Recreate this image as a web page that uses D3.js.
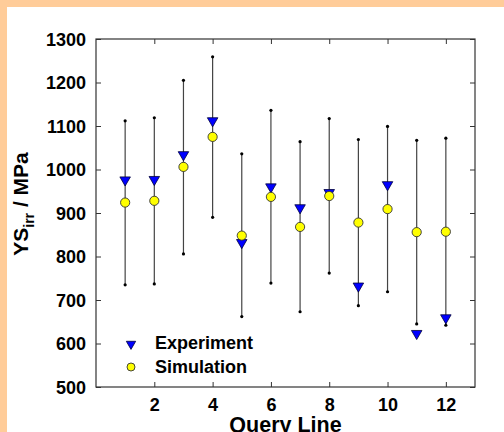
<!DOCTYPE html>
<html>
<head>
<meta charset="utf-8">
<script src="https://cdn.jsdelivr.net/npm/d3@7"></script>
<style>
  body { margin: 0; background: #ffcc99; }
  svg { display: block; }
  text { font-family: "Liberation Sans", Arial, Helvetica, sans-serif; font-weight: bold; fill: #000; }
</style>
</head>
<body>
<svg id="chart" width="504" height="432"></svg>
<script>
// DATA
var queryLines = [1, 2, 3, 4, 5, 6, 7, 8, 9, 10, 11, 12];
var experiment = [976, 977, 1034, 1112, 832, 960, 912, 947, 732, 965, 623, 659];
var simulation = [924, 928, 1006, 1075, 848, 937, 868, 939, 878, 909, 856, 857];
var errHigh = [1112, 1119, 1205, 1259, 1036, 1136, 1064, 1117, 1069, 1099, 1067, 1072];
var errLow = [735, 737, 806, 890, 662, 739, 673, 762, 687, 719, 645, 642];
var xTicks = [2, 4, 6, 8, 10, 12];
var yTicks = [500, 600, 700, 800, 900, 1000, 1100, 1200, 1300];
var legendLabels = ["Experiment", "Simulation"];

var W = 504, H = 432;
var plot = { left: 96, top: 39, right: 475, bottom: 387 };

const svg = d3.select("#chart");

// white panel on the orange frame
svg.append("rect")
    .attr("x", 7).attr("y", 7)
    .attr("width", W - 7).attr("height", H - 7)
    .attr("fill", "#fff");

// SCALES
var x = d3.scaleLinear().domain([0, 13]).range([plot.left, plot.right]);
var y = d3.scaleLinear().domain([500, 1300]).range([plot.bottom, plot.top]);

var rows = queryLines.map((q, i) => ({
    q: q, exp: experiment[i], sim: simulation[i], hi: errHigh[i], lo: errLow[i]
}));

// AXES (ticks inside, on all four sides)
var tickLen = 5;
svg.append("g")
    .attr("transform", "translate(0," + plot.bottom + ")")
    .call(d3.axisBottom(x).tickValues(xTicks).tickFormat(d3.format("d"))
        .tickSizeInner(-tickLen).tickSizeOuter(0).tickPadding(8))
    .call(g => g.select(".domain").remove())
    .call(g => g.selectAll("text").attr("font-size", 18).attr("dy", "0.9em"));

svg.append("g")
    .attr("transform", "translate(0," + plot.top + ")")
    .call(d3.axisTop(x).tickValues(xTicks).tickSizeInner(-tickLen).tickSizeOuter(0).tickFormat(""))
    .call(g => g.select(".domain").remove());

svg.append("g")
    .attr("transform", "translate(" + plot.left + ",0)")
    .call(d3.axisLeft(y).tickValues(yTicks).tickFormat(d3.format("d"))
        .tickSizeInner(-tickLen).tickSizeOuter(0).tickPadding(10))
    .call(g => g.select(".domain").remove())
    .call(g => g.selectAll("text").attr("font-size", 18).attr("dy", "0.36em"));

svg.append("g")
    .attr("transform", "translate(" + plot.right + ",0)")
    .call(d3.axisRight(y).tickValues(yTicks).tickSizeInner(-tickLen).tickSizeOuter(0).tickFormat(""))
    .call(g => g.select(".domain").remove());

svg.selectAll(".tick line").attr("stroke", "#333");

svg.append("rect")
    .attr("x", plot.left).attr("y", plot.top)
    .attr("width", plot.right - plot.left).attr("height", plot.bottom - plot.top)
    .attr("fill", "none").attr("stroke", "#333").attr("stroke-width", 1.2);

// ERROR BARS
const bars = svg.append("g");
bars.selectAll("line")
    .data(rows)
    .join("line")
    .attr("x1", d => x(d.q)).attr("x2", d => x(d.q))
    .attr("y1", d => y(d.lo)).attr("y2", d => y(d.hi))
    .attr("stroke", "#444").attr("stroke-width", 1.2);

bars.selectAll("circle")
    .data(rows.flatMap(d => [{ q: d.q, v: d.hi }, { q: d.q, v: d.lo }]))
    .join("circle")
    .attr("cx", d => x(d.q)).attr("cy", d => y(d.v))
    .attr("r", 1.6).attr("fill", "#000");

// MARKERS
var tri = d3.symbol().type(d3.symbolTriangle).size(48);
svg.append("g")
    .selectAll("path")
    .data(rows)
    .join("path")
    .attr("d", tri)
    .attr("transform", d => "translate(" + x(d.q) + "," + y(d.exp) + ") rotate(180)")
    .attr("fill", "#0000ff").attr("stroke", "#00003a").attr("stroke-width", 0.8);

svg.append("g")
    .selectAll("circle")
    .data(rows)
    .join("circle")
    .attr("cx", d => x(d.q)).attr("cy", d => y(d.sim))
    .attr("r", 4.6)
    .attr("fill", "#ffff00").attr("stroke", "#333").attr("stroke-width", 0.9);

// LEGEND
var leg = svg.append("g");
leg.append("path")
    .attr("d", d3.symbol().type(d3.symbolTriangle).size(38))
    .attr("transform", "translate(131,344) rotate(180)")
    .attr("fill", "#0000ff").attr("stroke", "#00003a").attr("stroke-width", 0.8);
leg.append("circle")
    .attr("cx", 131).attr("cy", 367).attr("r", 4)
    .attr("fill", "#ffff00").attr("stroke", "#333").attr("stroke-width", 0.9);
leg.selectAll("text")
    .data(legendLabels)
    .join("text")
    .attr("x", 155)
    .attr("y", (d, i) => 349 + i * 24)
    .attr("font-size", 18)
    .text(d => d);

// AXIS TITLES
svg.append("text")
    .attr("x", (plot.left + plot.right) / 2)
    .attr("y", 432)
    .attr("text-anchor", "middle")
    .attr("font-size", 21.5)
    .text("Query Line");

var yl = svg.append("text")
    .attr("transform", "translate(28,204) rotate(-90)")
    .attr("text-anchor", "middle")
    .attr("font-size", 21);
yl.append("tspan").text("YS");
yl.append("tspan").attr("font-size", 14).attr("dy", 6).text("irr");
yl.append("tspan").attr("dy", -6).text(" / MPa");
</script>
</body>
</html>
